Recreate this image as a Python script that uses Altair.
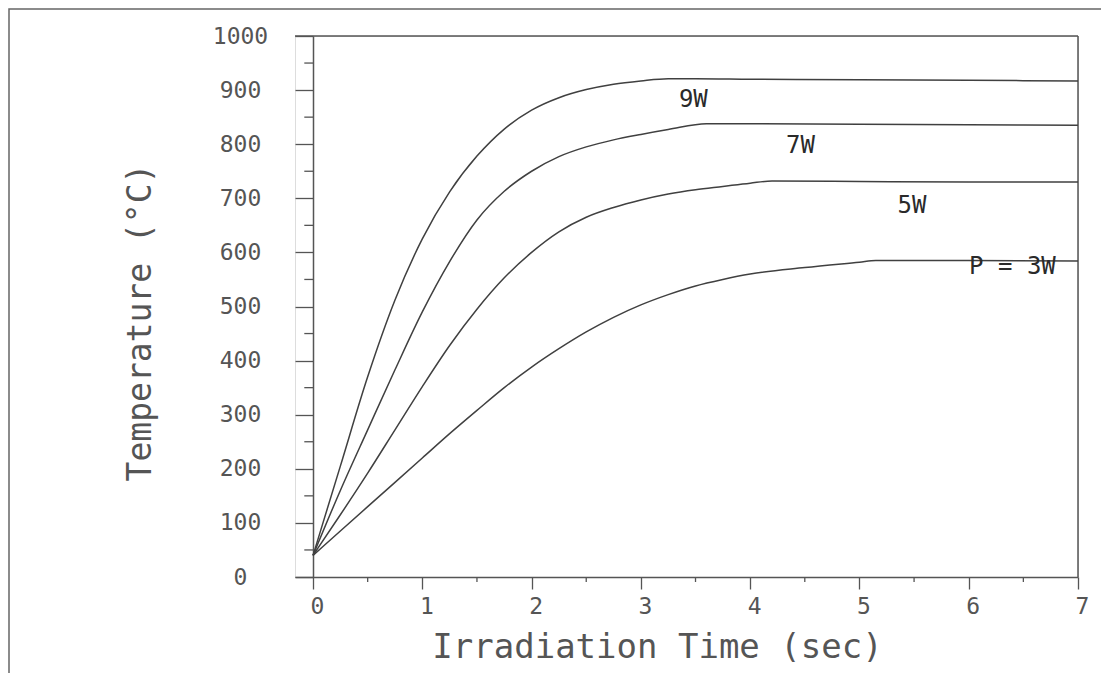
import altair as alt
import pandas as pd

# ---- data ----
t_9w = [0, 0.25, 0.5, 0.75, 1.0, 1.25, 1.5, 1.75, 2.0, 2.25, 2.5, 2.75, 3.0, 3.25, 3.5, 4, 5, 6, 7]
T_9w = [40, 205, 370, 512, 625, 712, 778, 828, 863, 886, 901, 911, 917, 921, 921, 920, 919, 918, 917]

t_7w = [0, 0.25, 0.5, 0.75, 1.0, 1.25, 1.5, 1.75, 2.0, 2.25, 2.5, 2.75, 3.0, 3.25, 3.6, 4, 5, 6, 7]
T_7w = [40, 160, 272, 383, 490, 583, 660, 713, 750, 777, 795, 808, 818, 827, 838, 838, 837, 836, 835]

t_5w = [0, 0.25, 0.5, 0.75, 1.0, 1.25, 1.5, 1.75, 2.0, 2.25, 2.5, 2.75, 3.0, 3.25, 3.5, 3.75, 4.0, 4.2, 5, 6, 7]
T_5w = [40, 115, 192, 272, 352, 428, 495, 553, 600, 638, 665, 683, 697, 708, 716, 722, 728, 732, 731, 730, 730]

t_3w = [0, 0.25, 0.5, 0.75, 1.0, 1.25, 1.5, 1.75, 2.0, 2.25, 2.5, 2.75, 3.0, 3.25, 3.5, 3.75, 4.0, 4.5, 5.0, 5.15, 6, 7]
T_3w = [40, 85, 130, 175, 220, 265, 308, 350, 388, 422, 453, 480, 503, 522, 538, 550, 560, 572, 582, 585, 585, 584]

label_text = ["9W", "7W", "5W", "P = 3W"]
label_t = [3.48, 4.46, 5.48, 6.40]
label_T = [882, 797, 686, 573]

x_major = [0, 1, 2, 3, 4, 5, 6, 7]
x_minor = [0.5, 1.5, 2.5, 3.5, 4.5, 5.5, 6.5]
y_major = [0, 100, 200, 300, 400, 500, 600, 700, 800, 900, 1000]
y_minor = [50, 150, 250, 350, 450, 550, 650, 750, 850, 950]

X_MIN, X_MAX = -0.165, 7
Y_MIN, Y_MAX = 0, 1000

FONT = "DejaVu Sans Mono"
LINE = "#404040"
AXC = "#555555"
TXT = "#555555"

rows = []
for name, ts, Ts in [("9W", t_9w, T_9w), ("7W", t_7w, T_7w), ("5W", t_5w, T_5w), ("3W", t_3w, T_3w)]:
    for a, b in zip(ts, Ts):
        rows.append({"series": name, "t": a, "T": b})
df = pd.DataFrame(rows)
labels_df = pd.DataFrame({"text": label_text, "t": label_t, "T": label_T})

xs = alt.Scale(domain=[X_MIN, X_MAX], nice=False, zero=False)
ys = alt.Scale(domain=[Y_MIN, Y_MAX], nice=False, zero=False)

W, H = 783, 541

xaxis = alt.Axis(
    values=x_major, format="d", grid=False, tickSize=12, tickColor=AXC, tickWidth=1.3,
    domainColor=AXC, domainWidth=1.5, labelFont=FONT, labelFontSize=23, labelColor=TXT,
    labelPadding=6, labelOffset=4, labelFlush=False,
    title="Irradiation Time (sec)", titleFont=FONT, titleFontSize=34, titleFontWeight="normal",
    titleColor=TXT, titleX=362, titleY=70, titleBaseline="middle", titleAnchor="middle",
)
yaxis = alt.Axis(
    values=y_major, format="d", grid=False, tickSize=18, tickColor=AXC, tickWidth=1.3,
    domainColor=AXC, domainWidth=1.5, labelFont=FONT, labelFontSize=23, labelColor=TXT,
    labelAlign="center", labelPadding=55, labelBaseline="middle", labelFlush=False,
    offset=-18,
    title="Temperature (°C)", titleFont=FONT, titleFontSize=33, titleFontWeight="normal",
    titleColor=TXT, titleAngle=-90, titleX=-173, titleY=286, titleBaseline="middle",
    titleAlign="center",
)

lines = alt.Chart(df).mark_line(color=LINE, strokeWidth=1.5, interpolate="monotone").encode(
    x=alt.X("t:Q", scale=xs, axis=xaxis),
    y=alt.Y("T:Q", scale=ys, axis=yaxis),
    detail="series:N",
)

texts = alt.Chart(labels_df).mark_text(font=FONT, fontSize=24, color="#2a2a2a").encode(
    x=alt.X("t:Q", scale=xs), y=alt.Y("T:Q", scale=ys), text="text:N"
)

top_rule = alt.Chart().mark_rule(color=AXC, strokeWidth=1.5).encode(y=alt.datum(Y_MAX))
right_rule = alt.Chart().mark_rule(color=AXC, strokeWidth=1.5).encode(x=alt.datum(X_MAX))

yminor_df = pd.DataFrame({"v": y_minor, "x1": [-0.08] * len(y_minor), "x2": [0] * len(y_minor)})
yminor = alt.Chart(yminor_df).mark_rule(color=AXC, strokeWidth=1.3).encode(
    y=alt.Y("v:Q", scale=ys), x=alt.X("x1:Q", scale=xs), x2="x2:Q"
)
xminor_df = pd.DataFrame({"v": x_minor})
xminor = alt.Chart(xminor_df).mark_rule(color=AXC, strokeWidth=1.3).encode(
    x=alt.X("v:Q", scale=xs), y=alt.value(H), y2=alt.value(H + 5)
)

frame = alt.Chart().mark_rect(fill=None, stroke="#666666", strokeWidth=1.5).encode(
    x=alt.value(-286), x2=alt.value(W + 40), y=alt.value(-27), y2=alt.value(H + 130)
)

chart = alt.layer(frame, top_rule, right_rule, yminor, xminor, lines, texts).properties(
    width=W, height=H,
    autosize=alt.AutoSizeParams(type="none"),
    padding={"left": 287, "top": 28, "right": 23, "bottom": 96},
).configure_view(stroke=None).configure(background="white")

chart.save("out.html", embed_options={"renderer": "svg", "actions": False})
